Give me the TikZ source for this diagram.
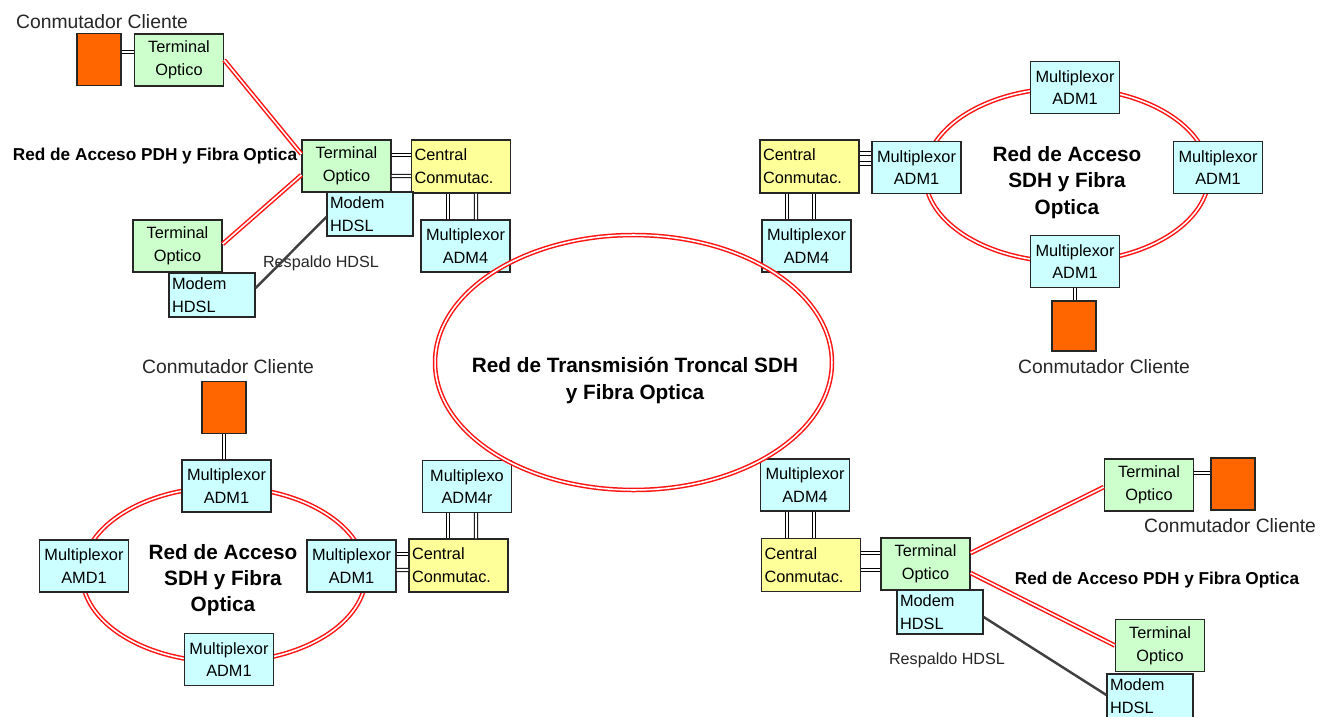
\documentclass[tikz,border=0pt]{standalone}
\usepackage{fontspec}
\setmainfont{Liberation Sans}
\usetikzlibrary{shapes.geometric, calc}
\definecolor{termcolor}{RGB}{204,255,204}
\definecolor{muxcolor}{RGB}{204,255,255}
\definecolor{centcolor}{RGB}{255,255,153}
\definecolor{swcolor}{RGB}{255,102,0}
\definecolor{fibercolor}{RGB}{255,20,20}
\tikzset{
    equip/.style={
        rectangle, draw=black!85, line width=0.75pt, minimum width=1.78cm, minimum height=1.04cm,
        inner sep=1.5pt, font=\fontsize{9.3}{13}\selectfont, align=center
    },
    terminal/.style={equip, fill=termcolor},
    multiplexor/.style={equip, fill=muxcolor},
    central/.style={
        equip, fill=centcolor, minimum width=1.98cm, minimum height=1.06cm,
        text width=1.86cm, align=left
    },
    modem/.style={
        equip, fill=muxcolor, minimum width=1.72cm, minimum height=0.88cm,
        text width=1.6cm, align=left
    },
    switchbox/.style={
        rectangle, draw=black!85, line width=0.75pt, fill=swcolor,
        minimum width=0.88cm, minimum height=1.04cm
    },
    netring/.style={ellipse, draw=fibercolor, double=white, line width=0.85pt, double distance=0.9pt, inner sep=0pt},
    fiberlink/.style={draw=fibercolor, double=white, line width=0.85pt, double distance=0.9pt},
    cablelink/.style={draw=black, double=white, line width=0.55pt, double distance=1.4pt},
    backupline/.style={draw=black!75, line width=1.4pt},
    nettitle/.style={font=\bfseries\fontsize{11.8}{15}\selectfont, align=center},
    pdhtitle/.style={font=\bfseries\fontsize{9.8}{12}\selectfont},
    clientlabel/.style={font=\fontsize{11}{13}\selectfont, text=black!85},
    backuplabel/.style={font=\fontsize{9.2}{11}\selectfont, text=black!85}
}
\begin{document}
\begin{tikzpicture}[x=0.02cm, y=-0.02cm]
\clip (0,0) rectangle (1320,717);

% Access rings (behind their multiplexers)
\node[netring, minimum width=5.68cm, minimum height=3.48cm] (ringtr) at (1067,175) {};
\node[netring, minimum width=5.68cm, minimum height=3.5cm] (ringbl) at (224,574.5) {};

% Top left: PDH access
\node[switchbox] (swtl) at (99,59.5) {};
\node[terminal] (totl) at (179,60) {Terminal\\Optico};
\node[terminal] (toma) at (346.5,166) {Terminal\\Optico};
\node[central] (centl) at (461,166.5) {Central\\Conmutac.};
\node[modem] (mdtl) at (370,214) {Modem\\HDSL};
\node[multiplexor] (adm4tl) at (465.5,246) {Multiplexor\\ADM4};
\node[terminal] (totl2) at (177.5,246) {Terminal\\Optico};
\node[modem] (mdtl2) at (212,295) {Modem\\HDSL};
\node[clientlabel] (cltl) at (102,22) {Conmutador Cliente};
\node[pdhtitle] (pdhtl) at (155,156) {Red de Acceso PDH y Fibra Optica};
\node[backuplabel] (bktl) at (321,263) {Respaldo HDSL};

% Top right: SDH access ring
\node[central] (centr) at (809.5,166.5) {Central\\Conmutac.};
\node[multiplexor] (admtrl) at (916.5,167.5) {Multiplexor\\ADM1};
\node[multiplexor] (adm4tr) at (806.5,246) {Multiplexor\\ADM4};
\node[multiplexor] (admtrt) at (1075,87.5) {Multiplexor\\ADM1};
\node[multiplexor] (admtrr) at (1218,167.5) {Multiplexor\\ADM1};
\node[multiplexor] (admtrb) at (1075,261.5) {Multiplexor\\ADM1};
\node[switchbox, minimum height=1cm] (swtr) at (1074,326) {};
\node[clientlabel] (cltr) at (1104,367) {Conmutador Cliente};
\node[nettitle] (titr) at (1067,182.5) {Red de Acceso\\SDH y Fibra\\Optica};

% Bottom left: SDH access ring
\node[switchbox] (swbl) at (224,407.5) {};
\node[multiplexor] (admblt) at (226.5,486) {Multiplexor\\ADM1};
\node[multiplexor] (admbll) at (84,566) {Multiplexor\\AMD1};
\node[multiplexor] (admblr) at (351.5,566) {Multiplexor\\ADM1};
\node[multiplexor] (admblb) at (229,659.5) {Multiplexor\\ADM1};
\node[central] (cenbl) at (458.5,565.5) {Central\\Conmutac.};
\node[multiplexor] (adm4bl) at (467,486.5) {Multiplexo\\ADM4r};
\node[clientlabel] (clbl) at (228,367) {Conmutador Cliente};
\node[nettitle] (tibl) at (223,580) {Red de Acceso\\SDH y Fibra\\Optica};

% Bottom right: PDH access
\node[multiplexor] (adm4br) at (805,485) {Multiplexor\\ADM4};
\node[central] (cenbr) at (811,565) {Central\\Conmutac.};
\node[terminal] (tobr) at (925.5,564) {Terminal\\Optico};
\node[modem] (mdbr) at (940,612) {Modem\\HDSL};
\node[terminal] (tobrt) at (1149,485) {Terminal\\Optico};
\node[switchbox] (swbr) at (1233,484) {};
\node[terminal] (tobrb) at (1160,645.5) {Terminal\\Optico};
\node[modem] (mdbr2) at (1150,696) {Modem\\HDSL};
\node[clientlabel] (clbr) at (1230,526) {Conmutador Cliente};
\node[pdhtitle] (pdhbr) at (1157,580) {Red de Acceso PDH y Fibra Optica};
\node[backuplabel] (bkbr) at (947,660) {Respaldo HDSL};

% Backbone ring
\node[netring, minimum width=7.94cm, minimum height=5.1cm] (core) at (633.5,362.5) {};
\node[nettitle] (ticore) at (635,380.5) {Red de Transmisi\'on Troncal SDH\\y Fibra Optica};

% Top left links
\draw[cablelink] ($(swtl.east)+(0,-7.5)$) -- ($(totl.west)+(0,-8)$);
\draw[fiberlink] (totl.east) -- ($(toma.west)+(0,-12)$);
\draw[fiberlink] ($(toma.west)+(0,9)$) -- ($(totl2.east)+(0,-2)$);
\draw[backupline] ($(mdtl2.east)+(0,-7)$) -- ($(mdtl.west)+(0,3)$);
\draw[cablelink] ($(toma.east)+(0,-11)$) -- ($(centl.west)+(0,-11.5)$);
\draw[cablelink] ($(toma.east)+(0,10)$) -- ($(centl.west)+(0,9.5)$);
\draw[cablelink] ($(centl.south)+(-13,0)$) -- ($(adm4tl.north)+(-17.5,0)$);
\draw[cablelink] ($(centl.south)+(15,0)$) -- ($(adm4tl.north)+(10.5,0)$);

% Top right links
\draw[cablelink] ($(centr.east)+(0,-13)$) -- ($(admtrl.west)+(0,-14)$);
\draw[cablelink] ($(centr.east)+(0,-3)$) -- ($(admtrl.west)+(0,-4)$);
\draw[cablelink] ($(centr.south)+(-22.5,0)$) -- ($(adm4tr.north)+(-19.5,0)$);
\draw[cablelink] ($(centr.south)+(4.5,0)$) -- ($(adm4tr.north)+(7.5,0)$);
\draw[cablelink] (admtrb.south) -- (admtrb.south |- swtr.north);

% Bottom left links
\draw[cablelink] (swbl.south) -- (swbl.south |- admblt.north);
\draw[cablelink] ($(admblr.east)+(0,-12)$) -- ($(cenbl.west)+(0,-11.5)$);
\draw[cablelink] ($(admblr.east)+(0,4)$) -- ($(cenbl.west)+(0,4.5)$);
\draw[cablelink] ($(adm4bl.south)+(-19,0)$) -- ($(cenbl.north)+(-10.5,0)$);
\draw[cablelink] ($(adm4bl.south)+(9,0)$) -- ($(cenbl.north)+(17.5,0)$);

% Bottom right links
\draw[cablelink] ($(adm4br.south)+(-18,0)$) -- ($(cenbr.north)+(-24,0)$);
\draw[cablelink] ($(adm4br.south)+(9,0)$) -- ($(cenbr.north)+(3,0)$);
\draw[cablelink] ($(cenbr.east)+(0,-12)$) -- ($(tobr.west)+(0,-11)$);
\draw[cablelink] ($(cenbr.east)+(0,5)$) -- ($(tobr.west)+(0,6)$);
\draw[fiberlink] ($(tobr.east)+(0,-11)$) -- ($(tobrt.west)+(0,2)$);
\draw[fiberlink] ($(tobr.east)+(0,9)$) -- (tobrb.west);
\draw[backupline] ($(mdbr.east)+(0,5)$) -- ($(mdbr2.west)+(0,-1)$);
\draw[cablelink] ($(tobrt.east)+(0,-12)$) -- ($(swbr.west)+(0,-11)$);

\end{tikzpicture}
\end{document}
